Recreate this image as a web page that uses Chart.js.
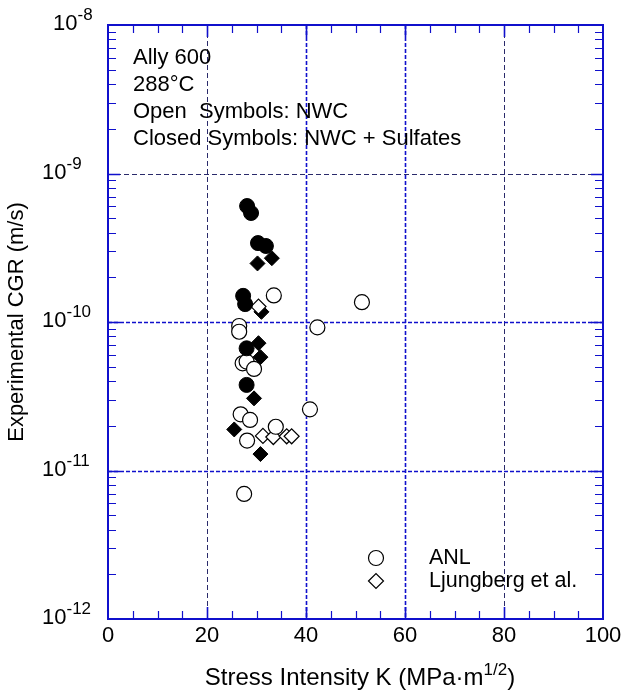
<!DOCTYPE html>
<html>
<head>
<meta charset="utf-8">
<script src="https://cdn.jsdelivr.net/npm/chart.js@4.4.1/dist/chart.umd.min.js"></script>
<style>
body { margin: 0; background: #fff; }
#wrap { width: 624px; height: 698px; position: relative; }
</style>
</head>
<body>
<div id="wrap"><canvas id="myChart"></canvas></div>
<script>
// closed circles: ANL, NWC + sulfates
var anlSulfK   = [28.1, 28.9, 30.3, 31.9, 27.3, 27.7, 28.0, 28.0];
var anlSulfCGR = [6.04e-10, 5.42e-10, 3.40e-10, 3.25e-10, 1.50e-10, 1.32e-10, 6.65e-11, 3.77e-11];

// open circles: ANL, NWC
var anlK   = [33.5, 51.3, 26.5, 26.5, 42.3, 27.2, 28.0, 29.5, 40.8, 26.8, 28.7, 33.9, 28.1, 27.5];
var anlCGR = [1.51e-10, 1.36e-10, 9.4e-11, 8.6e-11, 9.2e-11, 5.27e-11, 5.41e-11, 4.83e-11,
              2.58e-11, 2.39e-11, 2.19e-11, 1.97e-11, 1.59e-11, 6.95e-12];

// open diamonds: Ljungberg et al., NWC
var ljK   = [30.4, 31.3, 33.4, 36.1, 37.1];
var ljCGR = [1.27e-10, 1.71e-11, 1.68e-11, 1.70e-11, 1.70e-11];

// closed diamonds: Ljungberg et al., NWC + sulfates
var ljSulfK   = [30.2, 33.1, 31.0, 30.4, 30.8, 29.5, 25.5, 30.8];
var ljSulfCGR = [2.48e-10, 2.69e-10, 1.17e-10, 7.2e-11, 5.8e-11, 3.06e-11, 1.89e-11, 1.29e-11];

var xTicks = [0, 20, 40, 60, 80, 100];
var yTicks = [1e-12, 1e-11, 1e-10, 1e-9, 1e-8];
var yTickExp = ['-12', '-11', '-10', '-9', '-8'];

var notes = ['Ally 600', '288\u00B0C', 'Open  Symbols: NWC', 'Closed Symbols: NWC + Sulfates'];
var legendLabels = ['ANL', 'Ljungberg et al.'];

var FONT = '"Liberation Sans", Arial, sans-serif';
var blue = '#1010cc';

function pts(k, v) {
    var out = [];
    for (var i = 0; i < k.length; i++) out.push({x: k[i], y: v[i]});
    return out;
}

var axisPlugin = {
    id: 'axisPlugin',
    beforeDatasetsDraw: function(chart) {
        var ctx = chart.ctx, a = chart.chartArea;
        var xs = chart.scales.x, ys = chart.scales.y;
        ctx.save();
        // vertical grid
        xTicks.forEach(function(v) {
            if (v == 0 || v == 100) return;
            var px = Math.round(xs.getPixelForValue(v)) + 0.5;
            var thin = (v == 20 || v == 80);
            ctx.lineWidth = thin ? 1 : 1.6;
            ctx.strokeStyle = thin ? '#2a2a6a' : blue;
            ctx.setLineDash(thin ? [5, 3] : [4, 2]);
            ctx.beginPath(); ctx.moveTo(px, a.top); ctx.lineTo(px, a.bottom); ctx.stroke();
        });
        // horizontal grid
        yTicks.forEach(function(v) {
            if (v == 1e-12 || v == 1e-8) return;
            var py = Math.round(ys.getPixelForValue(v)) + 0.5;
            var thin = (v == 1e-9);
            ctx.lineWidth = thin ? 1 : 1.6;
            ctx.strokeStyle = thin ? '#2a2a6a' : blue;
            ctx.setLineDash(thin ? [5, 3] : [4, 2]);
            ctx.beginPath(); ctx.moveTo(a.left, py); ctx.lineTo(a.right, py); ctx.stroke();
        });
        ctx.restore();
    },
    afterDraw: function(chart) {
        var ctx = chart.ctx, a = chart.chartArea;
        var xs = chart.scales.x, ys = chart.scales.y;
        ctx.save();
        ctx.strokeStyle = blue;
        // inward ticks, x every 5
        for (var k = 5; k < 100; k += 5) {
            var px = Math.round(xs.getPixelForValue(k)) + 0.5;
            var major = (k % 20 == 0);
            var len = major ? 12 : 8;
            ctx.lineWidth = major ? 1.6 : 1.2;
            ctx.beginPath();
            ctx.moveTo(px, a.bottom); ctx.lineTo(px, a.bottom - len);
            ctx.moveTo(px, a.top); ctx.lineTo(px, a.top + len);
            ctx.stroke();
        }
        // inward ticks, log y
        for (var e = -12; e < -8; e++) {
            for (var m = 1; m <= 9; m++) {
                if (m == 1 && e == -12) continue;
                var py = Math.round(ys.getPixelForValue(m * Math.pow(10, e))) + 0.5;
                var len2 = (m == 1) ? 12 : 8;
                ctx.lineWidth = (m == 1) ? 1.6 : 1.2;
                ctx.beginPath();
                ctx.moveTo(a.left, py); ctx.lineTo(a.left + len2, py);
                ctx.moveTo(a.right, py); ctx.lineTo(a.right - len2, py);
                ctx.stroke();
            }
        }
        // frame
        ctx.lineWidth = 2;
        ctx.strokeRect(a.left, a.top, a.right - a.left, a.bottom - a.top);

        ctx.fillStyle = '#000';
        // x tick labels
        ctx.font = '22px ' + FONT;
        ctx.textAlign = 'center';
        ctx.textBaseline = 'alphabetic';
        xTicks.forEach(function(v) {
            ctx.fillText(String(v), xs.getPixelForValue(v), a.bottom + 23);
        });
        // y tick labels 10^n, left aligned
        ctx.textAlign = 'left';
        yTicks.forEach(function(v, i) {
            var py = ys.getPixelForValue(v);
            var lx = (v == 1e-8) ? 53 : 42;
            ctx.font = '22px ' + FONT;
            var bw = ctx.measureText('10').width;
            ctx.fillText('10', lx, py + 5);
            ctx.font = '17px ' + FONT;
            ctx.fillText(yTickExp[i], lx + bw, py - 5);
        });
        // x title with superscript
        ctx.font = '24px ' + FONT;
        var t1 = 'Stress Intensity K (MPa\u00B7m', t3 = ')';
        var w1 = ctx.measureText(t1).width, w3 = ctx.measureText(t3).width;
        ctx.font = '17px ' + FONT;
        var w2 = ctx.measureText('1/2').width;
        var x0 = 360 - (w1 + w2 + w3) / 2, by = 685;
        ctx.font = '24px ' + FONT;
        ctx.fillText(t1, x0, by);
        ctx.fillText(t3, x0 + w1 + w2, by);
        ctx.font = '17px ' + FONT;
        ctx.fillText('1/2', x0 + w1, by - 10);
        // y title
        ctx.save();
        ctx.translate(23, (a.top + a.bottom) / 2);
        ctx.rotate(-Math.PI / 2);
        ctx.font = '22px ' + FONT;
        ctx.textAlign = 'center';
        ctx.fillText('Experimental CGR (m/s)', 0, 0);
        ctx.restore();
        // notes
        ctx.font = '22px ' + FONT;
        ctx.textAlign = 'left';
        notes.forEach(function(s, i) {
            ctx.fillText(s, 133, 64 + i * 27);
        });
        // legend
        ctx.strokeStyle = '#000';
        ctx.lineWidth = 1.2;
        ctx.fillStyle = '#fff';
        ctx.beginPath(); ctx.arc(376, 558, 7.5, 0, 2 * Math.PI); ctx.fill(); ctx.stroke();
        ctx.beginPath();
        ctx.moveTo(368.5, 581); ctx.lineTo(376, 573.5); ctx.lineTo(383.5, 581); ctx.lineTo(376, 588.5);
        ctx.closePath(); ctx.fill(); ctx.stroke();
        ctx.fillStyle = '#000';
        ctx.font = '21.5px ' + FONT;
        ctx.fillText(legendLabels[0], 429, 564);
        ctx.fillText(legendLabels[1], 429, 587);
        ctx.restore();
    }
};

var ctx = document.getElementById('myChart');
new Chart(ctx, {
    type: 'scatter',
    data: {
        datasets: [
            {label: 'ANL + Sulfates', data: pts(anlSulfK, anlSulfCGR), pointStyle: 'circle',
             pointRadius: 7.5, backgroundColor: '#000', borderColor: '#000', borderWidth: 1},
            {label: 'ANL', data: pts(anlK, anlCGR), pointStyle: 'circle',
             pointRadius: 7.5, backgroundColor: '#fff', borderColor: '#000', borderWidth: 1.2},
            {label: 'Ljungberg et al.', data: pts(ljK, ljCGR), pointStyle: 'rectRot',
             pointRadius: 7.5, backgroundColor: '#fff', borderColor: '#000', borderWidth: 1.2},
            {label: 'Ljungberg + Sulfates', data: pts(ljSulfK, ljSulfCGR), pointStyle: 'rectRot',
             pointRadius: 7.5, backgroundColor: '#000', borderColor: '#000', borderWidth: 1}
        ]
    },
    options: {
        responsive: true,
        maintainAspectRatio: false,
        animation: false,
        events: [],
        layout: {padding: {top: 25, right: 21, left: 0, bottom: 0}},
        plugins: {legend: {display: false}, tooltip: {enabled: false}},
        scales: {
            x: {
                type: 'linear', min: 0, max: 100,
                grid: {display: false}, border: {display: false},
                ticks: {display: false},
                afterFit: function(s) { s.height = 79; }
            },
            y: {
                type: 'logarithmic', min: 1e-12, max: 1e-8,
                grid: {display: false}, border: {display: false},
                ticks: {display: false},
                afterFit: function(s) { s.width = 108; }
            }
        }
    },
    plugins: [axisPlugin]
});
</script>
</body>
</html>
